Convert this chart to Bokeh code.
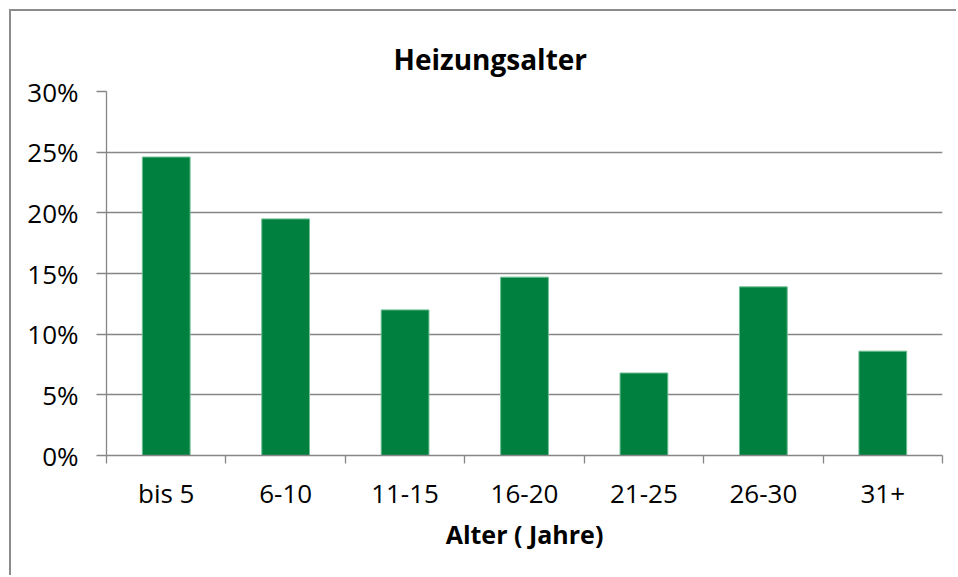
from bokeh.plotting import figure
from bokeh.models import FixedTicker, NumeralTickFormatter, ColumnDataSource, Range1d
from bokeh.embed import file_html
from bokeh.resources import INLINE

categories = ["bis 5", "6-10", "11-15", "16-20", "21-25", "26-30", "31+"]
shares = [0.246, 0.195, 0.120, 0.147, 0.068, 0.139, 0.086]
y_ticks = [0.0, 0.05, 0.10, 0.15, 0.20, 0.25, 0.30]

FONT = "Open Sans"
GRAY = "#868686"

xpos = [i + 0.5 for i in range(len(categories))]
src = ColumnDataSource(dict(x=xpos, top=shares, cat=categories))

p = figure(width=947, height=566, output_backend="svg", toolbar_location=None,
           x_range=Range1d(0, len(categories)), y_range=Range1d(0, 0.30),
           min_border_left=95, min_border_right=16, min_border_top=80, min_border_bottom=122)
p.styles = {"margin-left": "9px", "margin-top": "9px",
            "border-left": "2px solid #8c8c8c", "border-top": "2px solid #8c8c8c"}

p.vbar(x="x", top="top", width=0.40, bottom=0, source=src,
       fill_color="#00803f", line_color="#6fbf94", line_width=1)

p.title.text = "Heizungsalter"
p.title.align = "left"
p.title.text_font = FONT
p.title.text_font_size = "28px"
p.title.text_font_style = "bold"
p.title.text_color = "black"
p.title.offset = 287
p.title.standoff = 27

p.outline_line_color = None
p.xgrid.grid_line_color = None
p.ygrid.grid_line_color = GRAY
p.ygrid.grid_line_width = 1.3
p.ygrid.ticker = FixedTicker(ticks=y_ticks)

yax = p.yaxis[0]
yax.ticker = FixedTicker(ticks=y_ticks)
yax.formatter = NumeralTickFormatter(format="0%")
yax.axis_line_color = GRAY
yax.axis_line_width = 1.3
yax.major_tick_line_color = GRAY
yax.major_tick_line_width = 1.3
yax.major_tick_out = 10
yax.major_tick_in = 0
yax.minor_tick_line_color = None
yax.major_label_text_font = FONT
yax.major_label_text_font_size = "26px"
yax.major_label_text_color = "black"
yax.major_label_standoff = 18

xax = p.xaxis[0]
xax.ticker = FixedTicker(ticks=xpos, minor_ticks=list(range(len(categories) + 1)))
xax.major_label_overrides = {x: c for x, c in zip(xpos, categories)}
xax.axis_line_color = GRAY
xax.axis_line_width = 1.3
xax.major_tick_line_color = None
xax.major_tick_out = 0
xax.major_tick_in = 0
xax.minor_tick_line_color = GRAY
xax.minor_tick_line_width = 1.3
xax.minor_tick_out = 8
xax.minor_tick_in = 0
xax.major_label_text_font = FONT
xax.major_label_text_font_size = "26px"
xax.major_label_text_color = "black"
xax.major_label_standoff = 11
xax.axis_label = "Alter ( Jahre)"
xax.axis_label_text_font = FONT
xax.axis_label_text_font_size = "25px"
xax.axis_label_text_font_style = "bold"
xax.axis_label_text_color = "black"
xax.axis_label_standoff = 3

open("out.html", "w").write(file_html(p, INLINE))
